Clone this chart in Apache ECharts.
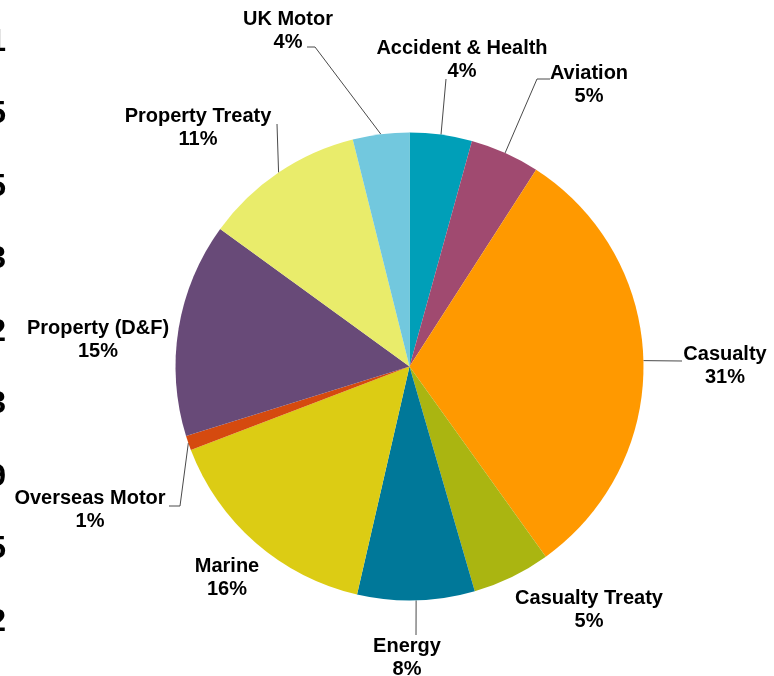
<!DOCTYPE html>
<html>
<head>
<meta charset="utf-8">
<script src="https://cdn.jsdelivr.net/npm/echarts@6/dist/echarts.min.js"></script>
<style>
html,body{margin:0;padding:0;background:#fff;}
#chart{width:774px;height:676px;}
</style>
</head>
<body>
<div id="chart"></div>
<script>
// ---- data ----
var categories = ['Accident & Health','Aviation','Casualty','Casualty Treaty','Energy','Marine','Overseas Motor','Property (D&F)','Property Treaty','UK Motor'];
var shares = [4.3, 4.8, 31.0, 5.4, 8.1, 15.6, 1.0, 14.8, 11.1, 3.9];
// clipped tick labels of a neighbouring chart at the left edge
var clippedTicks = ['1','5','5','3','2','3','9','5','2'];

// ---- styling / layout (not data) ----
var colors = ['#009fb8','#a04a70','#ff9900','#aab511','#007899','#dccc14','#d54a0f','#684a78','#e9ec6b','#72c8de'];
var labelAt = [[462,60],[589,85],[725,366],[589,610],[407,658],[227,578],[90,510],[98,340],[198,128],[288,31]];
var leaderBends = [
  [[446,79]],
  [[537,79],[550,79]],
  [[682,361]],
  null,
  [[416,635]],
  null,
  [[180,506],[169,506]],
  null,
  [[277,124]],
  [[315,47],[307,47]]
];
var tickY0 = 42, tickStep = 72.5;

var chart = echarts.init(document.getElementById('chart'), null, {renderer:'canvas'});

var data = categories.map(function(name, i){
  return {
    name: name,
    value: shares[i],
    itemStyle: {color: colors[i]},
    labelLine: {show: leaderBends[i] !== null}
  };
});

var graphics = clippedTicks.map(function(t, i){
  return {
    type: 'text',
    x: 6,
    y: tickY0 + i * tickStep,
    silent: true,
    style: {
      text: t,
      fill: '#000',
      font: 'bold 32px "Liberation Sans"',
      textAlign: 'right',
      textVerticalAlign: 'middle'
    }
  };
});

chart.setOption({
  animation: false,
  backgroundColor: '#ffffff',
  graphic: graphics,
  series: [{
    type: 'pie',
    center: [409.5, 366.5],
    radius: 234,
    startAngle: 90,
    clockwise: true,
    avoidLabelOverlap: false,
    data: data,
    itemStyle: {borderWidth: 0},
    emphasis: {disabled: true},
    label: {
      show: true,
      position: 'outside',
      formatter: function(p){ return p.name + '\n' + Math.round(p.percent) + '%'; },
      fontFamily: '"Liberation Sans", Arial, sans-serif',
      fontWeight: 'bold',
      fontSize: 20,
      lineHeight: 23,
      color: '#000',
      align: 'center'
    },
    labelLine: {
      show: true,
      length: 10,
      length2: 10,
      lineStyle: {color: '#4a4a4a', width: 1}
    },
    labelLayout: function(params){
      var i = params.dataIndex;
      var out = {
        x: labelAt[i][0],
        y: labelAt[i][1],
        align: 'center',
        verticalAlign: 'middle'
      };
      if (leaderBends[i] && params.labelLinePoints) {
        var pts = [params.labelLinePoints[0]].concat(leaderBends[i]);
        if (pts.length < 3) pts.push(pts[pts.length - 1]);
        out.labelLinePoints = pts;
      }
      return out;
    }
  }]
});
</script>
</body>
</html>
